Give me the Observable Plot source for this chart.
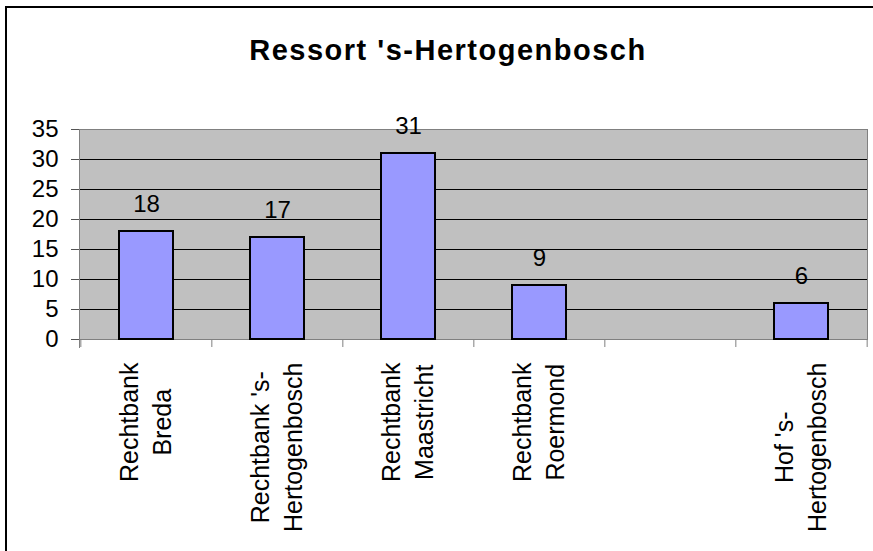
<!DOCTYPE html>
<html>
<head>
<meta charset="utf-8">
<script src="https://cdn.jsdelivr.net/npm/d3@7"></script>
<script src="https://cdn.jsdelivr.net/npm/@observablehq/plot@0.6"></script>
<style>
  html, body { margin: 0; padding: 0; background: white; overflow: hidden; }
  #wrap { position: relative; width: 873px; height: 551px; }
  #border { position: absolute; left: 5px; top: 6px; width: 900px; height: 600px;
            border-left: 2px solid black; border-top: 2px solid black; z-index: 3; pointer-events: none; }
  #title { position: absolute; left: 448px; top: 36px; transform: translateX(-50%);
           font-family: "Liberation Sans", Arial, sans-serif; font-weight: bold; font-size: 29px;
           line-height: 29px; letter-spacing: 1.5px; white-space: nowrap; color: black; z-index: 2; }
  #chart { position: absolute; left: 0; top: 0; z-index: 1; }
</style>
</head>
<body>
<div id="wrap">
  <div id="border"></div>
  <div id="title">Ressort 's-Hertogenbosch</div>
  <div id="chart"></div>
</div>
<script>
// Data
const categories = [
  "Rechtbank\nBreda",
  "Rechtbank 's-\nHertogenbosch",
  "Rechtbank\nMaastricht",
  "Rechtbank\nRoermond",
  " ",
  "Hof 's-\nHertogenbosch"
];
const values = [18, 17, 31, 9, null, 6];
const yTicks = [0, 5, 10, 15, 20, 25, 30, 35];

const data = categories.map((c, i) => ({category: c, value: values[i]}))
  .filter(d => d.value != null);

const W = 873, H = 551;
const mL = 79, mR = 6, mT = 129, mB = 212;
const step = (W - mL - mR) / categories.length;
const font = "'Liberation Sans', Arial, sans-serif";
const labelSize = 25;

// measure longest line of each category label, to top-align label blocks
const ctx = document.createElement("canvas").getContext("2d");
ctx.font = `${labelSize}px ${font}`;
const maxLen = c => d3.max(c.split("\n"), s => ctx.measureText(s).width);

const labelMarks = categories.filter(c => c.trim() !== "").map(c =>
  Plot.text([c], {
    x: d => d, text: d => d, frameAnchor: "bottom", rotate: -90,
    textAnchor: "middle", lineAnchor: "middle", lineHeight: 1.32,
    fontSize: labelSize, fill: "black",
    dy: 23 + maxLen(c) / 2, dx: -3
  })
);

const chart = Plot.plot({
  width: W, height: H,
  marginLeft: mL, marginRight: mR, marginTop: mT, marginBottom: mB,
  style: {fontFamily: font, background: "transparent", overflow: "visible"},
  x: {domain: categories, paddingInner: 0.59, paddingOuter: 0.295, align: 0.5, axis: null},
  y: {domain: [0, 35], axis: null},
  marks: [
    Plot.frame({fill: "#C0C0C0", stroke: "#808080"}),
    Plot.gridY({ticks: yTicks.filter(v => v > 0 && v < 35), stroke: "black", strokeOpacity: 1}),
    Plot.frame({anchor: "left", stroke: "#808080", insetBottom: -8}),
    Plot.ruleY([0], {stroke: "#808080"}),
    Plot.axisY({ticks: yTicks, tickSize: 8, tickPadding: 13, fontSize: 24, stroke: "#555", fill: "black", label: null, tickFormat: d => d}),
    Plot.axisX({ticks: categories, tickSize: 8, tickFormat: () => "", stroke: "#808080", dx: -step / 2, label: null}),
    Plot.axisX({ticks: [categories[categories.length - 1]], tickSize: 8, tickFormat: () => "", stroke: "#808080", dx: step / 2, label: null}),
    Plot.barY(data, {x: "category", y: "value", fill: "#9999FF", stroke: "black", strokeWidth: 2}),
    Plot.text(data, {x: "category", y: "value", text: d => String(d.value), lineAnchor: "bottom", dy: -20, fontSize: 24, fill: "black"}),
    ...labelMarks
  ]
});
document.getElementById("chart").appendChild(chart);
</script>
</body>
</html>
